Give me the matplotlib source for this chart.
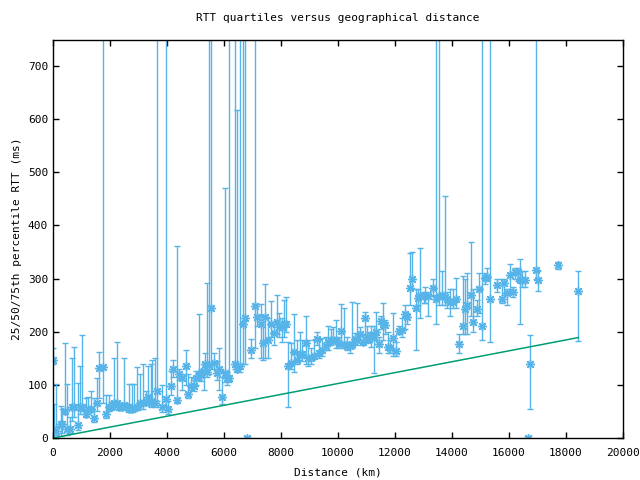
import matplotlib
matplotlib.use("Agg")
import matplotlib.pyplot as plt
import numpy as np

# distance (km), 25th, 50th, 75th percentile RTT (ms)
dist = [0, 50, 116, 270, 330, 420, 500, 590, 660, 740, 860, 940, 1030, 1150, 1240, 1330,
        1440, 1560, 1620, 1755, 1850, 1950, 2030, 2150, 2230, 2320, 2420, 2500, 2620, 2660,
        2780, 2840, 2930, 3070, 3170, 3250, 3330, 3430, 3490, 3570, 3660, 3840, 3977, 4050,
        4130, 4220, 4340, 4420, 4520, 4660, 4750, 4830, 4930, 5010, 5130, 5200, 5300, 5330,
        5410, 5465, 5556, 5640, 5760, 5840, 5940, 6050, 6110, 6170, 6388, 6448, 6574, 6669,
        6750, 6810, 6930, 7080, 7160, 7300, 7360, 7450, 7530, 7650, 7750, 7850, 7940, 8040,
        8120, 8170, 8250, 8340, 8460, 8550, 8670, 8750, 8870, 8950, 9070, 9160, 9260, 9340,
        9450, 9570, 9660, 9750, 9840, 9920, 10040, 10120, 10210, 10310, 10420, 10500, 10590,
        10680, 10780, 10860, 10940, 11020, 11100, 11170, 11250, 11340, 11430, 11520, 11570,
        11640, 11760, 11840, 11930, 12020, 12130, 12230, 12340, 12430, 12520, 12600, 12720,
        12810, 12890, 13010, 13070, 13150, 13330, 13443, 13535, 13640, 13760, 13840, 13930,
        14030, 14150, 14260, 14380, 14460, 14540, 14660, 14750, 14870, 14960, 15058, 15160,
        15240, 15339, 15570, 15750, 15840, 15930, 16040, 16130, 16220, 16300, 16380, 16460,
        16560, 16650, 16750, 16953, 17000, 17730, 18430]
q25 = [140, 2, 5, 4, 10, 45, 5, 10, 32, 40, 15, 45, 50, 40, 45, 48,
       30, 50, 76, 66, 38, 50, 52, 55, 58, 52, 52, 55, 50, 48,
       48, 50, 52, 55, 55, 62, 66, 58, 62, 58, 70, 48, 60, 45,
       80, 115, 65, 110, 90, 100, 75, 90, 88, 100, 110, 108, 90, 125,
       115, 120, 130, 130, 110, 91, 64, 105, 100, 105, 130, 125, 125, 140,
       140, 0, 150, 170, 210, 150, 146, 150, 150, 190, 175, 195, 190, 180,
       190, 200, 59, 130, 125, 140, 150, 145, 140, 135, 140, 148, 175, 150,
       155, 165, 165, 175, 178, 170, 170, 177, 170, 165, 160, 170, 180,
       175, 185, 175, 180, 178, 180, 172, 123, 185, 160, 205, 185,
       195, 160, 160, 155, 155, 195, 190, 205, 215, 250, 280, 166,
       250, 225, 255, 255, 230, 270, 215, 250, 250, 250, 245, 230,
       245, 245, 160, 195, 195, 195, 230, 200, 230, 235, 184, 290,
       295, 180, 275, 255, 270, 250, 280, 265, 300, 295, 215, 285,
       285, 0, 55, 300, 276, 319, 182]
med = [146, 17, 13, 26, 26, 51, 17, 17, 59, 59, 25, 59, 59, 45, 55, 55,
       38, 66, 131, 134, 46, 59, 59, 65, 66, 59, 59, 63, 59, 55,
       55, 57, 59, 66, 66, 70, 78, 66, 70, 66, 89, 59, 74, 55,
       98, 129, 72, 121, 112, 136, 83, 98, 98, 112, 121, 118, 127, 140,
       124, 138, 245, 142, 122, 129, 78, 122, 112, 112, 140, 129, 136, 215,
       225, 0, 166, 248, 228, 215, 178, 228, 184, 215, 197, 218, 208, 208,
       215, 215, 136, 142, 161, 146, 159, 159, 178, 150, 150, 155, 187, 160,
       166, 173, 180, 184, 184, 184, 177, 202, 177, 173, 173, 177, 187,
       184, 196, 180, 226, 190, 187, 193, 190, 199, 177, 221, 215,
       212, 171, 169, 189, 163, 201, 204, 234, 228, 283, 300, 245,
       264, 267, 267, 267, 267, 283, 262, 267, 269, 265, 262, 256,
       256, 262, 177, 210, 243, 250, 269, 218, 243, 281, 210, 302,
       303, 262, 288, 262, 291, 272, 306, 274, 313, 313, 298, 297,
       297, 0, 139, 316, 298, 325, 276]
q75 = [170, 64, 102, 60, 55, 178, 102, 40, 150, 172, 104, 136, 193, 76, 78, 89,
       76, 112, 161, 1000, 80, 80, 68, 150, 180, 65, 66, 150, 64, 102,
       102, 102, 133, 121, 140, 89, 136, 140, 146, 150, 1000, 100, 1000, 70,
       127, 146, 361, 130, 121, 166, 121, 115, 110, 127, 234, 130, 140, 160,
       291, 1000, 1000, 160, 145, 169, 115, 471, 125, 1000, 1000, 617, 1000, 1000,
       1000, 0, 187, 1000, 252, 252, 230, 290, 225, 257, 215, 270, 235, 225,
       260, 265, 180, 178, 233, 185, 199, 185, 230, 185, 170, 185, 199, 185,
       188, 190, 211, 205, 208, 223, 190, 253, 245, 190, 180, 256, 198,
       254, 208, 195, 237, 210, 200, 210, 210, 237, 190, 230, 255,
       222, 200, 185, 235, 180, 210, 225, 250, 235, 348, 350, 280,
       280, 357, 275, 285, 275, 300, 1000, 1000, 315, 455, 275, 280,
       280, 301, 195, 305, 300, 311, 368, 280, 260, 310, 1000, 310,
       320, 1000, 300, 300, 300, 280, 327, 285, 320, 320, 336, 315,
       315, 0, 194, 1000, 315, 331, 314]

# lower-bound line (km, ms)
bound_x = [0, 18430]
bound_y = [0, 189]

blue = "#56B4E9"
green = "#009E73"

plt.rcParams['font.family'] = ['DejaVu Sans Mono']
plt.rcParams['font.size'] = 8

fig = plt.figure(figsize=(6.4, 4.8), dpi=100)
ax = fig.add_axes([53/640, 1-438/480, (623-53)/640, (438-39.5)/480])

d = np.array(dist, float)
m = np.array(med, float)
lo = np.array(q25, float)
hi = np.array(q75, float)
ax.errorbar(d, m, yerr=[m-lo, hi-m], fmt='none', ecolor=blue, elinewidth=1,
            capsize=2.2, capthick=1)
ax.plot(d, m, linestyle='none', marker=(8, 2, 0), markersize=6.5, color=blue,
        markeredgewidth=1)
ax.plot(bound_x, bound_y, color=green, lw=1.1)

ax.set_xlim(0, 20000)
ax.set_ylim(0, 750)
ax.set_xticks(np.arange(0, 20001, 2000))
ax.set_yticks(np.arange(0, 701, 100))
ax.tick_params(direction='in', top=True, right=True, length=4, width=1)
ax.tick_params(axis='x', pad=7)
for s in ax.spines.values():
    s.set_linewidth(1)
ax.set_title("RTT quartiles versus geographical distance", fontsize=8, pad=13)
ax.set_xlabel("Distance (km)", labelpad=7)
ax.set_ylabel("25/50/75th percentile RTT (ms)")

fig.savefig("out.png", dpi=100)
